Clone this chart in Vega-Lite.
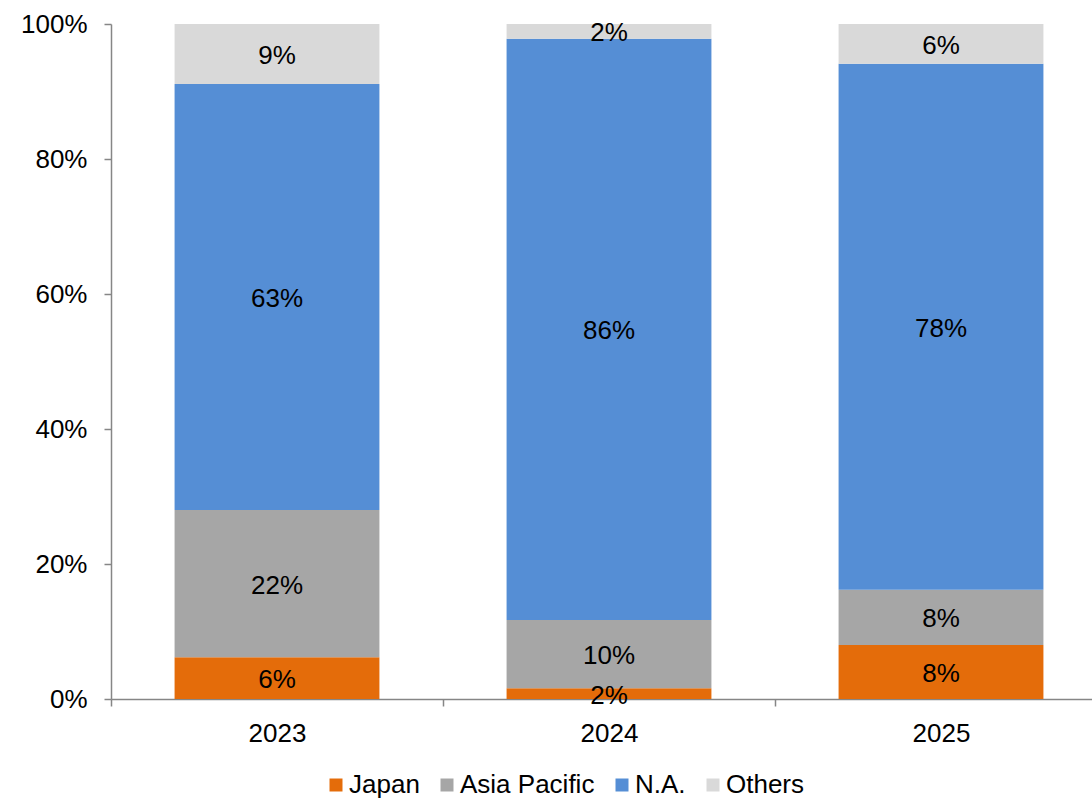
{
  "$schema": "https://vega.github.io/schema/vega-lite/v6.json",
  "autosize": {"type": "none"},
  "padding": {"left": 111, "top": 24, "right": 0, "bottom": 99},
  "width": 981,
  "height": 675,
  "background": "white",
  "config": {
    "view": {"stroke": null},
    "font": "Liberation Sans",
    "axis": {"labelFont": "Liberation Sans", "labelFontSize": 26, "labelColor": "black", "domainColor": "#868686", "tickColor": "#868686", "domainWidth": 1.5, "tickWidth": 1.5, "grid": false, "title": null}
  },
  "data": {
    "values": [
      {"year": "2023", "region": "Japan", "k": 1, "share": 0.062},
      {"year": "2023", "region": "Asia Pacific", "k": 2, "share": 0.218},
      {"year": "2023", "region": "N.A.", "k": 3, "share": 0.631},
      {"year": "2023", "region": "Others", "k": 4, "share": 0.089},
      {"year": "2024", "region": "Japan", "k": 1, "share": 0.016},
      {"year": "2024", "region": "Asia Pacific", "k": 2, "share": 0.101},
      {"year": "2024", "region": "N.A.", "k": 3, "share": 0.861},
      {"year": "2024", "region": "Others", "k": 4, "share": 0.022},
      {"year": "2025", "region": "Japan", "k": 1, "share": 0.080},
      {"year": "2025", "region": "Asia Pacific", "k": 2, "share": 0.082},
      {"year": "2025", "region": "N.A.", "k": 3, "share": 0.779},
      {"year": "2025", "region": "Others", "k": 4, "share": 0.059}
    ]
  },
  "encoding": {
    "x": {
      "field": "year", "type": "nominal",
      "scale": {"range": [0, 996], "paddingInner": 0, "paddingOuter": 0},
      "axis": {"labelAngle": 0, "tickBand": "extent", "tickSize": 7, "labelPadding": 14}
    },
    "y": {
      "field": "share", "type": "quantitative", "stack": "zero",
      "scale": {"domain": [0, 1], "nice": false},
      "axis": {"format": ".0%", "values": [0, 0.2, 0.4, 0.6, 0.8, 1], "tickSize": 7, "labelPadding": 17}
    },
    "order": {"field": "k", "type": "quantitative"}
  },
  "layer": [
    {
      "mark": {"type": "bar", "width": {"band": 0.617}},
      "encoding": {
        "color": {
          "field": "region", "type": "nominal",
          "sort": ["Japan", "Asia Pacific", "N.A.", "Others"],
          "scale": {"domain": ["Japan", "Asia Pacific", "N.A.", "Others"], "range": ["#E46C0A", "#A6A6A6", "#558ED5", "#D9D9D9"]},
          "legend": {
            "title": null, "orient": "none", "direction": "horizontal", "columns": 4,
            "legendX": 212, "legendY": 748, "padding": 0,
            "symbolType": "square", "symbolSize": 169, "symbolStrokeWidth": 0,
            "labelFont": "Liberation Sans", "labelFontSize": 26, "labelColor": "black",
            "labelOffset": 0, "columnPadding": 14
          }
        }
      }
    },
    {
      "mark": {"type": "text", "font": "Liberation Sans", "fontSize": 26, "color": "black", "baseline": "middle", "dy": 2},
      "encoding": {
        "y": {"field": "share", "type": "quantitative", "stack": "zero", "bandPosition": 0.5},
        "detail": {"field": "region", "type": "nominal"},
        "text": {"field": "share", "type": "quantitative", "format": ".0%"}
      }
    }
  ]
}
